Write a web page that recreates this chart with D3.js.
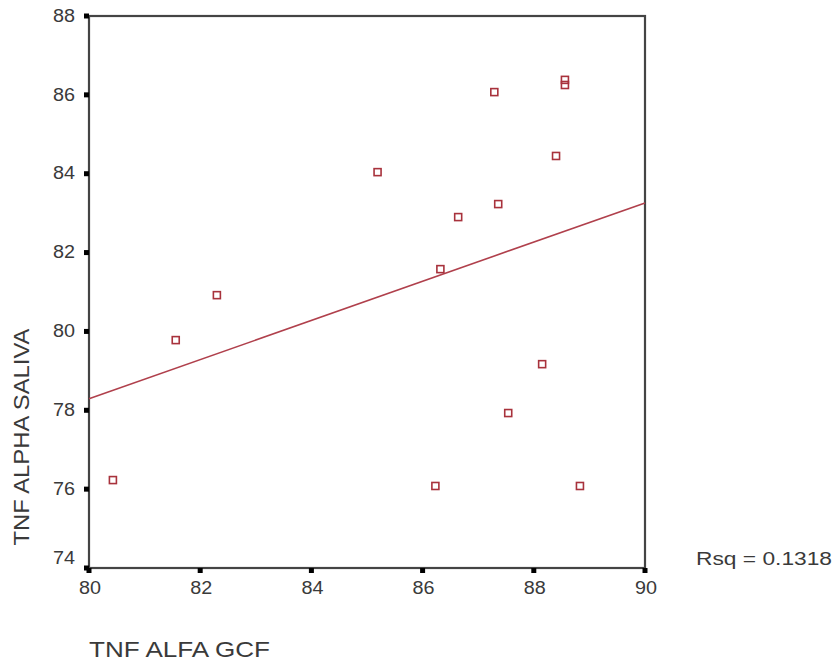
<!DOCTYPE html>
<html>
<head>
<meta charset="utf-8">
<script src="https://cdn.jsdelivr.net/npm/d3@7"></script>
<style>
  body { margin: 0; background: #fff; }
  text { font-family: "Liberation Sans", Arial, sans-serif; fill: #3a3a3a; }
</style>
</head>
<body>
<script>
// data
var gcf    = [80.43, 81.56, 82.30, 85.19, 86.32, 86.64, 87.29, 87.36, 88.56, 88.56, 88.40, 88.15, 87.54, 86.23, 88.83];
var saliva = [76.23, 79.78, 80.92, 84.04, 81.58, 82.90, 86.07, 83.23, 86.38, 86.25, 84.45, 79.17, 77.93, 76.08, 76.08];
var xTicks = [80, 82, 84, 86, 88, 90];
var yTicks = [74, 76, 78, 80, 82, 84, 86, 88];
// fitted line, value at x=80 and at x=90
var fitX = [80, 90];
var fitY = [78.29, 83.26];
var rsq = '0.1318';

var W = 836, H = 664;
var svg = d3.select('body').append('svg').attr('width', W).attr('height', H);

var pLeft = 89, pRight = 645, pTop = 16, pBottom = 568;
var x = d3.scaleLinear().domain([80, 90]).range([pLeft, pRight]);
var y = d3.scaleLinear().domain([74, 88]).range([pBottom, pTop]);

var lineCol = '#444';

// frame
svg.append('rect')
	.attr('x', pLeft).attr('y', pTop)
	.attr('width', pRight - pLeft).attr('height', pBottom - pTop)
	.style('fill', 'none').style('stroke', lineCol).style('stroke-width', '2.2px');

// y ticks and labels
var yAxis = svg.append('g');
yAxis.selectAll('rect').data(yTicks).enter().append('rect')
	.attr('x', pLeft - 5).attr('y', function(d){ return y(d) - 2.5; })
	.attr('width', 5).attr('height', 5).style('fill', '#000');
yAxis.selectAll('text').data(yTicks).enter().append('text')
	.attr('x', 75).attr('y', function(d){ return d == 74 ? y(d) - 9 : y(d) + 1; })
	.attr('text-anchor', 'end').attr('dominant-baseline', 'middle')
	.style('font-size', '18px')
	.attr('textLength', 22).attr('lengthAdjust', 'spacingAndGlyphs')
	.text(function(d){ return d; });

// x ticks and labels
var xAxis = svg.append('g');
xAxis.selectAll('rect').data(xTicks).enter().append('rect')
	.attr('x', function(d){ return x(d) - 2.5; }).attr('y', pBottom)
	.attr('width', 5).attr('height', 5).style('fill', '#000');
xAxis.selectAll('text').data(xTicks).enter().append('text')
	.attr('x', function(d){ return x(d) + 1; }).attr('y', 589)
	.attr('text-anchor', 'middle').attr('dominant-baseline', 'middle')
	.style('font-size', '18px')
	.attr('textLength', 22).attr('lengthAdjust', 'spacingAndGlyphs')
	.text(function(d){ return d; });

// fit line
var line = d3.line()
	.x(function(d){ return x(d[0]); })
	.y(function(d){ return y(d[1]); });
svg.append('path')
	.datum(d3.zip(fitX, fitY))
	.attr('d', line)
	.style('fill', 'none').style('stroke', '#b0404c').style('stroke-width', '1.6px');

// points
svg.selectAll('rect.pt').data(d3.zip(gcf, saliva)).enter().append('rect')
	.attr('class', 'pt')
	.attr('x', function(d){ return x(d[0]) - 3.5; })
	.attr('y', function(d){ return y(d[1]) - 3.5; })
	.attr('width', 7).attr('height', 7)
	.style('fill', 'none').style('stroke', '#a8323c').style('stroke-width', '1.6px');

// titles
svg.append('text')
	.attr('transform', 'translate(29,437) rotate(-90)')
	.attr('text-anchor', 'middle')
	.style('font-size', '22px')
	.attr('textLength', 217).attr('lengthAdjust', 'spacingAndGlyphs')
	.text('TNF ALPHA SALIVA');

svg.append('text')
	.attr('x', 89).attr('y', 657)
	.style('font-size', '22px')
	.attr('textLength', 181).attr('lengthAdjust', 'spacingAndGlyphs')
	.text('TNF ALFA GCF');

svg.append('text')
	.attr('x', 696).attr('y', 565)
	.style('font-size', '18px')
	.attr('textLength', 136).attr('lengthAdjust', 'spacingAndGlyphs')
	.text('Rsq = ' + rsq);
</script>
</body>
</html>
